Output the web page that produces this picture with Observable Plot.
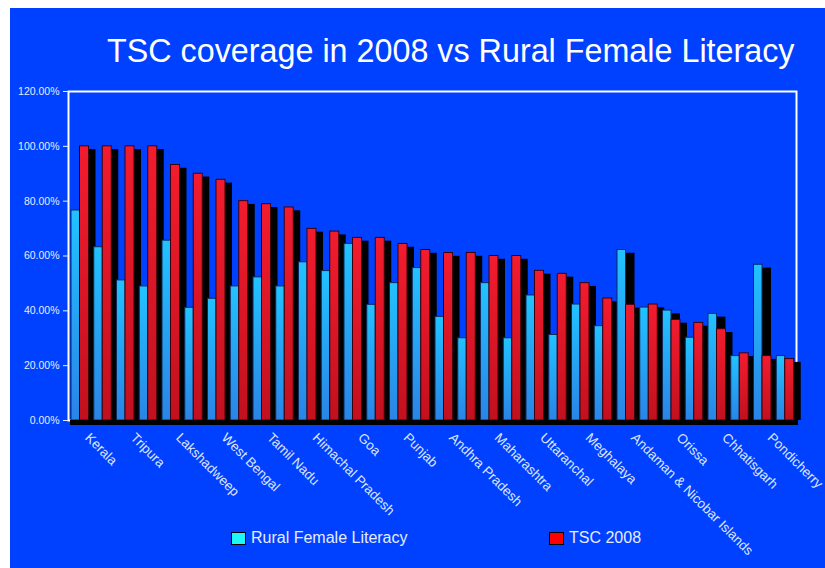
<!DOCTYPE html>
<html>
<head>
<meta charset="utf-8">
<script src="https://cdn.jsdelivr.net/npm/d3@7"></script>
<script src="https://cdn.jsdelivr.net/npm/@observablehq/plot@0.6"></script>
<style>
  html, body { margin: 0; padding: 0; background: #ffffff; }
  #page { position: relative; width: 825px; height: 568px; overflow: hidden; background: #ffffff; }
  #panel { position: absolute; left: 10px; top: 8px; width: 815px; height: 560px; background: #0041ff; }
  #title { position: absolute; left: 107px; top: 35px; font: 32.3px "Liberation Sans", Arial, sans-serif; line-height: 32px; color: #ffffff; white-space: nowrap; }
  #chart { position: absolute; left: 0; top: 80px; }
  .legend-item { position: absolute; top: 530px; font: 16px "Liberation Sans", Arial, sans-serif; line-height: 16px; color: #e6ecff; white-space: nowrap; }
  .swatch { position: absolute; top: 2px; left: 0; width: 13px; height: 11px; border: 1px solid #000; }
  .legend-item span.label { position: absolute; left: 20px; top: 0; }
</style>
</head>
<body>
<div id="page">
  <div id="panel"></div>
  <div id="title">TSC coverage in 2008 vs Rural Female Literacy</div>
  <div id="chart"></div>
  <div class="legend-item" style="left:231px"><div class="swatch" style="background:#1ff6f6"></div><span class="label">Rural Female Literacy</span></div>
  <div class="legend-item" style="left:549px"><div class="swatch" style="background:#ff0000"></div><span class="label">TSC 2008</span></div>
</div>
<script>
// States and union territories, ordered by TSC coverage in 2008
const states = [
  "Kerala", "Sikkim", "Tripura", "Mizoram", "Lakshadweep", "Daman & Diu",
  "West Bengal", "Haryana", "Tamil Nadu", "Gujarat", "Himachal Pradesh", "Chandigarh",
  "Goa", "Karnataka", "Punjab", "Delhi", "Andhra Pradesh", "Rajasthan",
  "Maharashtra", "Jharkhand", "Uttaranchal", "Uttar Pradesh", "Meghalaya", "Arunachal Pradesh",
  "Andaman & Nicobar Islands", "Dadra & Nagar Haveli", "Orissa", "Jammu & Kashmir",
  "Chhatisgarh", "Nagaland", "Pondicherry", "Bihar"
];

// Rural female literacy (share)
const ruralFemaleLiteracy = [
  0.766, 0.632, 0.511, 0.489, 0.656, 0.411, 0.444, 0.489,
  0.522, 0.489, 0.577, 0.545, 0.644, 0.422, 0.501, 0.556,
  0.378, 0.300, 0.501, 0.300, 0.456, 0.312, 0.423, 0.344,
  0.622, 0.412, 0.401, 0.302, 0.389, 0.235, 0.568, 0.235
];

// Total Sanitation Campaign coverage in 2008 (share)
const tsc2008 = [
  1.000, 1.000, 1.000, 1.000, 0.932, 0.900, 0.878, 0.800,
  0.789, 0.777, 0.699, 0.689, 0.666, 0.666, 0.644, 0.622,
  0.611, 0.611, 0.600, 0.600, 0.546, 0.535, 0.501, 0.445,
  0.422, 0.423, 0.367, 0.356, 0.333, 0.245, 0.235, 0.224
];

const yTicks = [0, 0.2, 0.4, 0.6, 0.8, 1.0, 1.2];

// Only every other state gets a label on the category axis
const labelledStates = states.filter((d, i) => i % 2 === 0);

const rows = states.map((state, i) => ({
  state,
  literacy: ruralFemaleLiteracy[i],
  tsc: tsc2008[i]
}));

const chart = Plot.plot({
  width: 825,
  height: 488,
  marginTop: 11,
  marginBottom: 148,
  marginLeft: 68,
  marginRight: 29,
  style: { background: "transparent", overflow: "visible", fontFamily: "Liberation Sans, Arial, sans-serif" },
  x: { type: "band", domain: states, padding: 0, round: false, axis: null },
  y: { domain: [0, 1.2], axis: null },
  marks: [
    Plot.frame({ stroke: "#ffffff", strokeWidth: 2 }),
    Plot.axisY({
      ticks: yTicks,
      tickFormat: d3.format(".2%"),
      tickSize: 5,
      tickPadding: 4,
      fontSize: 10.5,
      color: "#e6ecff"
    }),
    // depth faces (drawn behind the fronts)
    Plot.barY(rows, { x: "state", y: "literacy", fill: "#000", insetLeft: 10, insetRight: 2.25, insetTop: 3.3 }),
    Plot.barY(rows, { x: "state", y: "tsc", fill: "#000", insetLeft: 13.5, insetRight: -4.75, insetTop: 3.3 }),
    // front faces
    Plot.barY(rows, {
      x: "state", y: "literacy",
      fill: "url(#lit-grad)", stroke: "#0b2a5e", strokeWidth: 1,
      insetLeft: 3, insetRight: 11.25
    }),
    Plot.barY(rows, {
      x: "state", y: "tsc",
      fill: "url(#tsc-grad)", stroke: "#3d000c", strokeWidth: 1,
      insetLeft: 11.5, insetRight: 2.25
    }),
    // floor
    Plot.ruleY([0], { stroke: "#000", strokeWidth: 5, dx: 2, dy: 2 }),
    // category labels
    Plot.text(labelledStates, {
      x: d => d,
      text: d => d,
      frameAnchor: "bottom",
      rotate: 45,
      textAnchor: "start",
      lineAnchor: "middle",
      dx: 7.5,
      dy: 15,
      fontSize: 13.4,
      fill: "#dfe7ff"
    })
  ]
});

// gradients for the bar fronts
const defs = d3.select(chart).insert("defs", ":first-child");
function gradient(id, top, bottom) {
  const g = defs.append("linearGradient").attr("id", id)
    .attr("x1", 0).attr("y1", 0).attr("x2", 0).attr("y2", 1);
  g.append("stop").attr("offset", "0%").attr("stop-color", top);
  g.append("stop").attr("offset", "100%").attr("stop-color", bottom);
}
gradient("lit-grad", "#22c2ff", "#2a84e6");
gradient("tsc-grad", "#f21c2e", "#c2101e");

document.getElementById("chart").appendChild(chart);
</script>
</body>
</html>
